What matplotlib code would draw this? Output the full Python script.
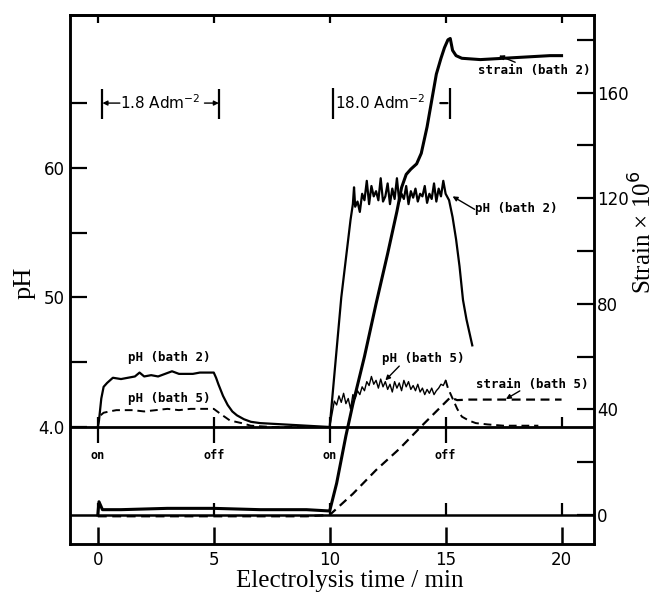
import matplotlib
matplotlib.use("Agg")
import matplotlib.pyplot as plt

# ---------------- data ----------------
# pH, bath 2 (solid)
ph2_t = [0.0, 0.05, 0.15, 0.25, 0.4, 0.65, 1.0, 1.3, 1.6, 1.8, 2.0, 2.3, 2.6, 2.9,
         3.2, 3.5, 3.8, 4.1, 4.4, 4.7, 5.0, 5.1, 5.2, 5.4, 5.6, 5.8, 6.0, 6.3, 6.6,
         7.0, 8.0, 9.0, 10.0, 10.1, 10.2, 10.3, 10.4, 10.5, 10.6, 10.7, 10.8, 10.9,
         11.0, 11.05, 11.1, 11.2, 11.3, 11.4, 11.5, 11.6, 11.7, 11.8, 11.9, 12.0,
         12.1, 12.2, 12.3, 12.4, 12.5, 12.6, 12.7, 12.8, 12.9, 13.0, 13.1, 13.2,
         13.3, 13.4, 13.5, 13.6, 13.7, 13.8, 13.9, 14.0, 14.1, 14.2, 14.3, 14.4,
         14.5, 14.6, 14.7, 14.8, 14.9, 15.0, 15.15, 15.3, 15.45, 15.6, 15.75, 15.9,
         16.15]
ph2_v = [4.00, 4.05, 4.22, 4.31, 4.34, 4.38, 4.37, 4.38, 4.39, 4.42, 4.39, 4.40,
         4.39, 4.41, 4.43, 4.41, 4.41, 4.41, 4.42, 4.42, 4.42, 4.38, 4.33, 4.24,
         4.17, 4.12, 4.09, 4.06, 4.04, 4.03, 4.02, 4.01, 4.00, 4.2, 4.4, 4.6, 4.8,
         5.0, 5.15, 5.3, 5.45, 5.6, 5.72, 5.85, 5.70, 5.74, 5.66, 5.80, 5.75, 5.90,
         5.72, 5.86, 5.78, 5.82, 5.75, 5.92, 5.74, 5.78, 5.88, 5.72, 5.84, 5.76,
         5.92, 5.74, 5.80, 5.76, 5.86, 5.72, 5.82, 5.77, 5.84, 5.74, 5.80, 5.78,
         5.86, 5.73, 5.80, 5.76, 5.88, 5.74, 5.84, 5.78, 5.90, 5.80, 5.75, 5.62,
         5.45, 5.24, 4.98, 4.83, 4.63]

# pH, bath 5, first period (dashed)
ph5a_t = [0.0, 0.05, 0.25, 0.5, 0.8, 1.5, 2.0, 2.5, 3.0, 3.5, 4.0, 4.5, 5.0, 5.3,
          5.7, 6.2, 6.6, 7.5, 9.0, 10.0]
ph5a_v = [4.00, 4.08, 4.11, 4.12, 4.13, 4.13, 4.12, 4.13, 4.14, 4.13, 4.14, 4.14,
          4.14, 4.10, 4.05, 4.03, 4.01, 4.00, 4.00, 4.00]
# pH, bath 5, second period (thin, noisy)
ph5b_t = [10.0, 10.1, 10.2, 10.3, 10.4, 10.5, 10.6, 10.7, 10.8, 10.9, 11.0, 11.1,
          11.2, 11.3, 11.4, 11.5, 11.6, 11.7, 11.8, 11.9, 12.0, 12.1, 12.2, 12.3,
          12.4, 12.5, 12.6, 12.7, 12.8, 12.9, 13.0, 13.1, 13.2, 13.3, 13.4, 13.5,
          13.6, 13.7, 13.8, 13.9, 14.0, 14.1, 14.2, 14.3, 14.4, 14.5, 14.6, 14.7,
          14.8, 14.9, 15.0]
ph5b_v = [4.00, 4.10, 4.20, 4.17, 4.24, 4.19, 4.26, 4.18, 4.22, 4.14, 4.25, 4.22,
          4.28, 4.25, 4.31, 4.28, 4.35, 4.32, 4.39, 4.33, 4.36, 4.30, 4.37, 4.31,
          4.35, 4.29, 4.33, 4.27, 4.35, 4.30, 4.34, 4.28, 4.36, 4.31, 4.35, 4.29,
          4.32, 4.28, 4.33, 4.27, 4.30, 4.25, 4.29, 4.26, 4.30, 4.25, 4.28, 4.30,
          4.33, 4.32, 4.36]
# pH, bath 5, decay after switch-off (dashed)
ph5c_t = [15.0, 15.1, 15.3, 15.5, 15.7, 16.0, 16.3, 16.8, 17.5, 19.0]
ph5c_v = [4.36, 4.30, 4.22, 4.14, 4.08, 4.05, 4.03, 4.02, 4.01, 4.01]

# Strain x 1e6, bath 2 (solid, thick)
st2_t = [0.0, 0.05, 0.2, 1.0, 3.0, 5.0, 7.0, 9.0, 10.0, 10.3, 10.7, 11.0, 11.5,
         12.0, 12.5, 12.9, 13.1, 13.3, 13.5, 13.75, 13.95, 14.2, 14.4, 14.6, 14.8,
         14.95, 15.1, 15.2, 15.3, 15.45, 15.7, 16.5, 17.5, 18.5, 19.5, 20.0]
st2_v = [0.0, 5.0, 2.0, 2.0, 2.5, 2.5, 2.0, 2.0, 1.5, 12, 30, 42, 60, 80, 99, 115,
         124, 129, 131, 133, 137, 147, 157, 167, 173, 177, 180, 180.5, 176, 174,
         173.0, 172.5, 173, 173.5, 174, 174]
# Strain x 1e6, bath 5 (dashed)
st5_t = [0.0, 1.0, 3.0, 5.0, 7.0, 9.0, 10.0, 11.0, 12.0, 13.0, 14.0, 14.8, 15.2,
         15.5, 16.0, 18.0, 20.0]
st5_v = [-0.5, -0.5, -0.5, -0.5, -0.5, -0.5, 0.0, 8, 17, 25, 34, 41, 44.5, 43.5,
         43.7, 43.7, 43.7]

x_ticks = [0, 5, 10, 15, 20]
ph_major = [4.0, 5.0, 6.0]
ph_major_labels = ["4.0", "50", "60"]
ph_minor = [4.5, 5.5, 6.5]
st_major = [0, 40, 80, 120, 160]
st_minor = [20, 60, 100, 140, 180]
switch_t = [0, 5, 10, 15]
switch_labels = ["on", "off", "on", "off"]

# ---------------- figure ----------------
fig = plt.figure(figsize=(6.56, 5.97), dpi=100)
ax = fig.add_axes([0.1067, 0.0888, 0.7988, 0.8861])
ax2 = ax.twinx()
ax.set_xlim(-1.2, 21.4)
ax.set_ylim(3.097, 7.18)
ax2.set_ylim(-11, 189.4)

for a in (ax, ax2):
    for s in a.spines.values():
        s.set_linewidth(1.8)

tickfont = dict(family="DejaVu Sans", size=12)
ax.set_xticks(x_ticks)
ax.set_xticklabels([str(v) for v in x_ticks], **tickfont)
ax.tick_params(axis="x", which="major", direction="in", length=12, width=1.8,
               pad=5)
top = ax.secondary_xaxis("top")
top.set_xticks(x_ticks)
top.set_xticklabels([])
top.tick_params(direction="in", length=6, width=1.6)
top.spines["top"].set_linewidth(1.8)
ax.set_yticks(ph_major)
ax.set_yticklabels(ph_major_labels, **tickfont)
ax.set_yticks(ph_minor, minor=True)
ax.tick_params(axis="y", which="both", direction="in", length=12, width=1.6, pad=4)
ax2.set_yticks(st_major)
ax2.set_yticklabels([str(v) for v in st_major], **tickfont)
ax2.set_yticks(st_minor, minor=True)
ax2.tick_params(axis="y", which="both", direction="in", length=12, width=1.6, pad=2)

# reference lines
ax.axhline(4.0, color="black", lw=2.0)
ax2.axhline(0.0, color="black", lw=1.8)
ax.vlines(switch_t, 3.88, 4.08, color="black", lw=1.6)
ax.vlines([20], 4.0, 4.08, color="black", lw=1.6)
ax2.vlines(x_ticks, 0, 4.5, color="black", lw=1.6)

# curves
ax.plot(ph2_t, ph2_v, color="black", lw=1.6)
ax.plot(ph5a_t, ph5a_v, color="black", lw=1.4, ls=(0, (4, 2.5)))
ax.plot(ph5b_t, ph5b_v, color="black", lw=1.0)
ax.plot(ph5c_t, ph5c_v, color="black", lw=1.4, ls=(0, (4, 2.5)))
ax2.plot(st2_t, st2_v, color="black", lw=2.2)
ax2.plot(st5_t, st5_v, color="black", lw=1.6, ls=(0, (4, 2.5)))

# on / off marks
for tt, lab in zip(switch_t, switch_labels):
    ax.text(tt, 3.78, lab, ha="center", va="center", family="DejaVu Sans Mono",
            fontsize=8.5, fontweight="bold")

lab_kw = dict(family="DejaVu Sans Mono", fontsize=9, fontweight="bold")
arr_kw = dict(arrowstyle="-|>", color="black", lw=1.0, mutation_scale=7,
              shrinkA=0, shrinkB=0)
ax.text(1.3, 4.54, "pH (bath 2)", ha="left", va="center", **lab_kw)
ax.text(1.3, 4.22, "pH (bath 5)", ha="left", va="center", **lab_kw)
ax.text(16.25, 5.69, "pH (bath 2)", ha="left", va="center", **lab_kw)
ax.annotate("", xy=(15.3, 5.78), xytext=(16.25, 5.68), arrowprops=arr_kw)
ax.text(12.24, 4.53, "pH (bath 5)", ha="left", va="center", **lab_kw)
ax.annotate("", xy=(12.4, 4.36), xytext=(13.0, 4.47), arrowprops=arr_kw)
ax2.text(16.4, 168.5, "strain (bath 2)", ha="left", va="center", **lab_kw)
ax2.annotate("", xy=(17.3, 174.0), xytext=(18.0, 171.5), arrowprops=arr_kw)
ax2.text(16.3, 49.4, "strain (bath 5)", ha="left", va="center", **lab_kw)
ax2.annotate("", xy=(17.6, 43.9), xytext=(18.2, 47.0), arrowprops=arr_kw)

# current-density brackets
ax.vlines([0.2, 5.22], 6.38, 6.61, color="black", lw=1.6)
ax.annotate("", xy=(0.2, 6.5), xytext=(0.95, 6.5), arrowprops=arr_kw)
ax.annotate("", xy=(5.22, 6.5), xytext=(4.6, 6.5), arrowprops=arr_kw)
ax.text(2.7, 6.5, "1.8 Adm$^{-2}$", ha="center", va="center",
        family="DejaVu Sans", fontsize=11)
ax.vlines([10.13, 15.2], 6.38, 6.62, color="black", lw=1.6)
ax.text(10.25, 6.5, "18.0 Adm$^{-2}$", ha="left", va="center",
        family="DejaVu Sans", fontsize=11)
ax.annotate("", xy=(15.2, 6.5), xytext=(14.65, 6.5),
            arrowprops=dict(arrowstyle="-", color="black", lw=1.6))

# axis labels
fig.text(25 / 656, 1 - 283 / 597, "pH", rotation=90, ha="center", va="center",
         family="Liberation Serif", fontsize=19)
fig.text(643 / 656, 1 - 232 / 597, "Strain \u00d7 10$^{6}$", rotation=90,
         ha="center", va="center", family="Liberation Serif", fontsize=18)
fig.text(350 / 656, 1 - 581 / 597, "Electrolysis time / min", ha="center",
         va="center", family="Liberation Serif", fontsize=18)

fig.savefig("out.png", dpi=100)
